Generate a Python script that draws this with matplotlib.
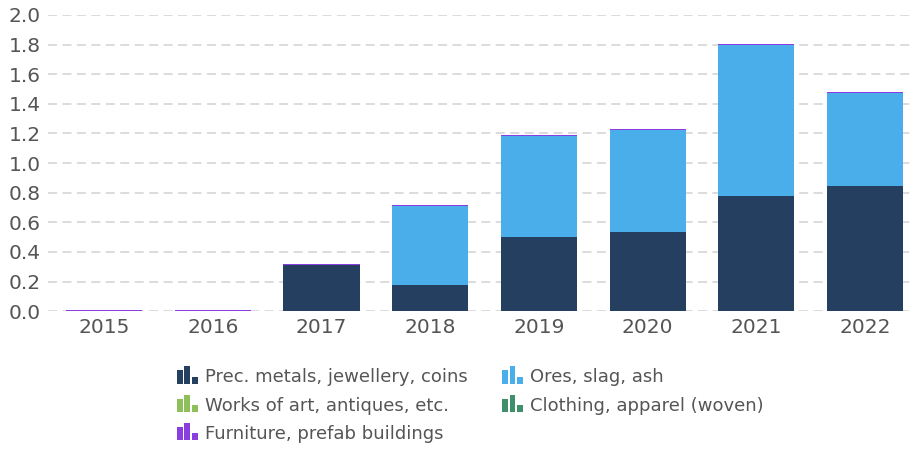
import numpy as np
import matplotlib.pyplot as plt
from matplotlib.patches import Rectangle
from matplotlib.legend_handler import HandlerBase

years = ['2015', '2016', '2017', '2018', '2019', '2020', '2021', '2022']

# stacked series
prec_metals = [0.0, 0.0, 0.31, 0.176, 0.50, 0.534, 0.777, 0.845]
ores_slag = [0.0, 0.003, 0.0, 0.534, 0.68, 0.691, 1.023, 0.630]
works_of_art = [0.0, 0.0, 0.003, 0.0, 0.003, 0.0, 0.0, 0.0]
clothing = [0.0, 0.0, 0.0, 0.0, 0.0, 0.0, 0.0, 0.0]
furniture = [0.008, 0.006, 0.006, 0.005, 0.006, 0.005, 0.005, 0.005]

series = [
    ('Prec. metals, jewellery, coins', prec_metals, '#243f5f'),
    ('Ores, slag, ash', ores_slag, '#4aaeea'),
    ('Works of art, antiques, etc.', works_of_art, '#8fbf5a'),
    ('Clothing, apparel (woven)', clothing, '#3f8f6a'),
    ('Furniture, prefab buildings', furniture, '#8a3ee0'),
]


class BarIconHandler(HandlerBase):
    # little three-bar glyph used as legend marker, sitting on the text baseline
    def create_artists(self, legend, orig_handle, xdescent, ydescent,
                       width, height, fontsize, trans):
        color = orig_handle.get_facecolor()
        full = fontsize * 0.95
        bw = width * 0.28
        gap = width * 0.08
        arts = []
        for i, frac in enumerate([0.78, 1.0, 0.4]):
            x0 = -xdescent + i * (bw + gap)
            r = Rectangle((x0, -1), bw, full * frac,
                          facecolor=color, edgecolor='none', transform=trans)
            arts.append(r)
        return arts


fig = plt.figure(figsize=(9.13, 4.49), dpi=100)
ax = fig.add_axes([0.0526, 0.307, 0.9474, 0.6596])

x = np.arange(len(years))
bottom = np.zeros(len(years))
handles = []
for label, vals, color in series:
    vals = np.array(vals)
    ax.bar(x, vals, width=0.7, bottom=bottom, color=color, zorder=3, clip_on=False)
    bottom += vals
    handles.append(Rectangle((0, 0), 1, 1, facecolor=color, label=label))

ax.set_ylim(0, 2.0)
ax.set_xlim(-0.515, 7.44)
ax.set_yticks(np.arange(0, 2.01, 0.2))
ax.set_yticklabels([f'{v:.1f}' for v in np.arange(0, 2.01, 0.2)])
ax.set_xticks(x)
ax.set_xticklabels(years)
ax.tick_params(axis='both', length=0, labelsize=14.5, colors='#555555')
ax.tick_params(axis='y', pad=5)
ax.tick_params(axis='x', pad=5)
ax.grid(axis='y', color='#d9d9d9', linestyle=(0, (5, 3)), linewidth=1.3, zorder=0)
for s in ax.spines.values():
    s.set_visible(False)

# legend fills column by column, so order it to read row by row
order = [0, 2, 4, 1, 3]
leg = fig.legend(handles=[handles[i] for i in order],
                 labels=[series[i][0] for i in order],
                 handler_map={Rectangle: BarIconHandler()},
                 loc='upper left', bbox_to_anchor=(0.184, 0.200),
                 ncol=2, frameon=False, fontsize=13,
                 handlelength=1.15, handleheight=0.9, handletextpad=0.4,
                 columnspacing=1.9, labelspacing=0.57, borderpad=0)
for t in leg.get_texts():
    t.set_color('#555555')

fig.savefig('out.png', dpi=100)
